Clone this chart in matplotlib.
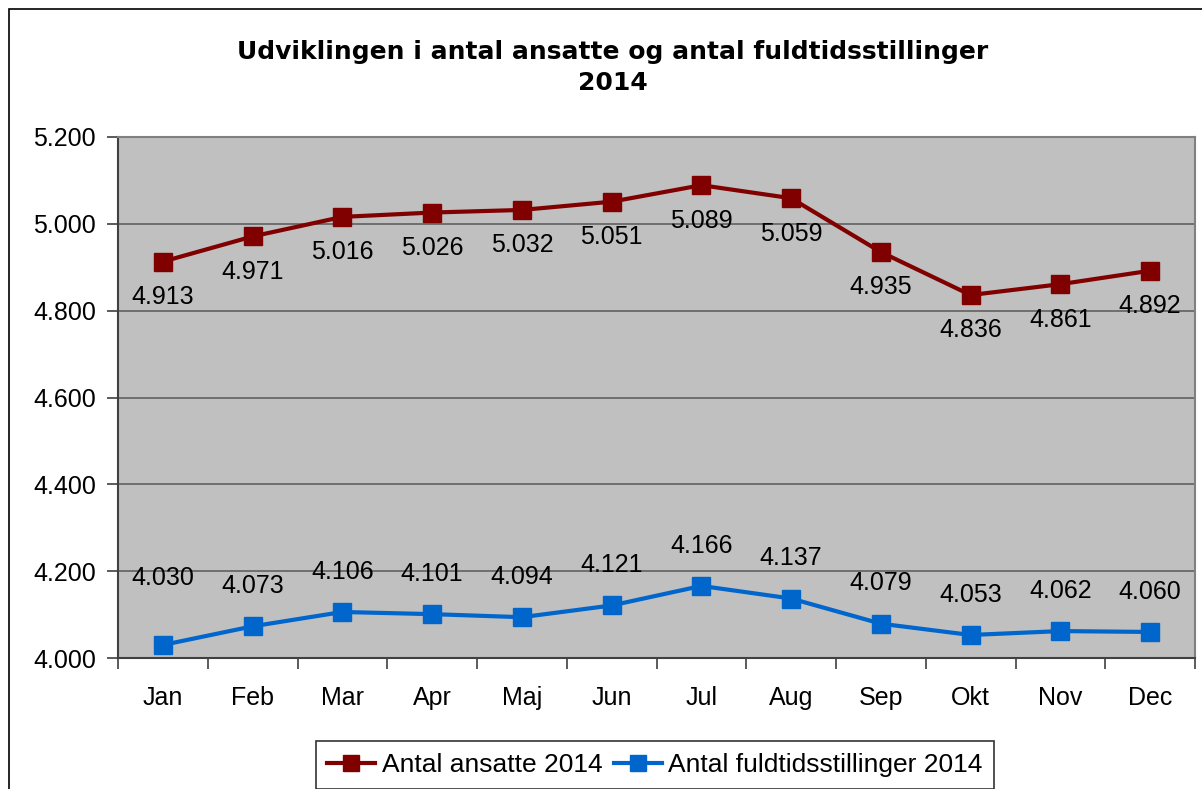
import matplotlib.pyplot as plt
from matplotlib.patches import Rectangle

plt.rcParams['font.family'] = ['Liberation Sans', 'DejaVu Sans']

months = ['Jan', 'Feb', 'Mar', 'Apr', 'Maj', 'Jun', 'Jul', 'Aug', 'Sep', 'Okt', 'Nov', 'Dec']
ansatte = [4913, 4971, 5016, 5026, 5032, 5051, 5089, 5059, 4935, 4836, 4861, 4892]
fuldtid = [4030, 4073, 4106, 4101, 4094, 4121, 4166, 4137, 4079, 4053, 4062, 4060]
yticks = [4000, 4200, 4400, 4600, 4800, 5000, 5200]

def dk(v):
    return '{:,}'.format(v).replace(',', '.')

fig = plt.figure(figsize=(12.02, 7.89), dpi=100)
# outer chart border (right and bottom edges fall outside the image)
fig.patches.append(Rectangle((9 / 1202, -0.1), 1.2, 1.1 - 9 / 789, transform=fig.transFigure,
                             fill=False, edgecolor='black', linewidth=1.2))
ax = fig.add_axes([118 / 1202, 1 - 658 / 789, (1195 - 118) / 1202, (658 - 137) / 789])
ax.set_facecolor('#C0C0C0')

x = list(range(len(months)))
ax.plot(x, ansatte, color='#800000', lw=3, marker='s', ms=13, label='Antal ansatte 2014')
ax.plot(x, fuldtid, color='#0066CC', lw=3, marker='s', ms=13, label='Antal fuldtidsstillinger 2014')

for i, v in enumerate(ansatte):
    ax.annotate(dk(v), (i, v), xytext=(0, -25.5), textcoords='offset points',
                ha='center', va='center', fontsize=18)
for i, v in enumerate(fuldtid):
    off = 48 if i == 0 else 29
    ax.annotate(dk(v), (i, v), xytext=(0, off), textcoords='offset points',
                ha='center', va='center', fontsize=18)

ax.set_xlim(-0.5, 11.5)
ax.set_ylim(4000, 5200)
ax.set_yticks(yticks)
ax.set_yticklabels([dk(t) for t in yticks], fontsize=18)
ax.set_xticks(x)
ax.set_xticklabels(months, fontsize=18)
ax.set_xticks([i - 0.5 for i in range(13)], minor=True)
ax.tick_params(axis='x', which='major', length=0, pad=20)
ax.tick_params(axis='x', which='minor', length=8, width=1.2, color='#404040', direction='out')
ax.tick_params(axis='y', length=8, width=1.2, color='#404040', pad=8)
ax.yaxis.grid(True, color='#606060', lw=1.2)
ax.set_axisbelow(True)
for s in ['left', 'bottom']:
    ax.spines[s].set_color('#404040')
    ax.spines[s].set_linewidth(1.5)
for s in ['top', 'right']:
    ax.spines[s].set_color('#808080')
    ax.spines[s].set_linewidth(1.5)

fig.text(613 / 1202, 1 - 67.5 / 789, 'Udviklingen i antal ansatte og antal fuldtidsstillinger\n2014',
         ha='center', va='center', fontsize=18, fontweight='bold', linespacing=1.4,
         family='DejaVu Sans')

leg = fig.legend(loc='center', bbox_to_anchor=(655 / 1202, 1 - 765 / 789), ncol=2, fontsize=19,
                 frameon=True, fancybox=False, edgecolor='black', handlelength=1.8,
                 handletextpad=0.25, columnspacing=0.45, borderpad=0.45, markerscale=0.9)
leg.get_frame().set_linewidth(1.2)

fig.savefig('out.png', dpi=100)
